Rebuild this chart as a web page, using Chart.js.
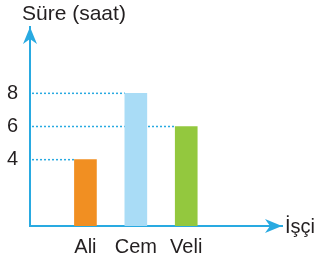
<!DOCTYPE html>
<html>
<head>
<meta charset="utf-8">
<script src="https://cdn.jsdelivr.net/npm/chart.js@4"></script>
<style>
  html, body { margin: 0; padding: 0; background: #fff; }
  #chart { display: block; }
</style>
</head>
<body>
<canvas id="chart" width="317" height="263"></canvas>
<script>
// Chart data
const workers = ['Ali', 'Cem', 'Veli'];
const workerPos = [1, 2, 3];
const hours = [4, 8, 6];
const barColors = ['#f18f22', '#a9dcf6', '#93c83e'];
const hourTicks = [4, 6, 8];

const AXIS_COLOR = '#29aae1';
const TEXT_COLOR = '#231f20';
const FONT = "'Liberation Sans', Arial, sans-serif";

// Arrow heads, dotted guide lines, title and the x-axis name
const axisDecor = {
  id: 'axisDecor',
  beforeDatasetsDraw(chart) {
    const { ctx, chartArea } = chart;
    const bars = chart.getDatasetMeta(0).data;
    ctx.save();
    ctx.strokeStyle = AXIS_COLOR;
    ctx.lineWidth = 1.5;
    ctx.setLineDash([2, 2]);
    bars.forEach(bar => {
      ctx.beginPath();
      ctx.moveTo(chartArea.left + 2, bar.y);
      ctx.lineTo(bar.x - bar.width / 2, bar.y);
      ctx.stroke();
    });
    ctx.restore();
  },
  afterDraw(chart) {
    const { ctx, chartArea } = chart;
    const { left, right, top, bottom } = chartArea;
    ctx.save();
    ctx.fillStyle = AXIS_COLOR;

    // y axis arrow
    ctx.beginPath();
    ctx.moveTo(left, top);
    ctx.lineTo(left + 7, top + 17);
    ctx.lineTo(left, top + 12);
    ctx.lineTo(left - 7, top + 17);
    ctx.closePath();
    ctx.fill();

    // x axis arrow
    ctx.beginPath();
    ctx.moveTo(right, bottom);
    ctx.lineTo(right - 17, bottom - 7);
    ctx.lineTo(right - 12, bottom);
    ctx.lineTo(right - 17, bottom + 7);
    ctx.closePath();
    ctx.fill();

    ctx.fillStyle = TEXT_COLOR;
    ctx.textBaseline = 'middle';
    ctx.textAlign = 'left';
    ctx.font = '21px ' + FONT;
    ctx.fillText('Süre (saat)', left - 8, 14);
    ctx.font = '20px ' + FONT;
    ctx.fillText('İşçi', right + 3, bottom + 1);
    ctx.restore();
  }
};

new Chart(document.getElementById('chart'), {
  type: 'bar',
  data: {
    datasets: [{
      data: workerPos.map((x, i) => ({ x: x, y: hours[i] })),
      backgroundColor: barColors,
      borderWidth: 0,
      barThickness: 22
    }]
  },
  options: {
    responsive: false,
    animation: false,
    layout: {
      padding: { left: 0, right: 35, top: 27, bottom: 0 }
    },
    plugins: {
      legend: { display: false },
      tooltip: { enabled: false },
      title: { display: false }
    },
    scales: {
      x: {
        type: 'linear',
        offset: false,
        min: -0.1,
        max: 4.9,
        grid: { display: false, drawTicks: false, offset: false },
        border: { display: true, color: AXIS_COLOR, width: 2 },
        afterBuildTicks: scale => {
          scale.ticks = workerPos.map(v => ({ value: v }));
        },
        afterFit: scale => { scale.height = 37; },
        ticks: {
          padding: 9,
          color: TEXT_COLOR,
          font: { family: FONT, size: 20 },
          maxRotation: 0,
          autoSkip: false,
          callback: (value, index) => workers[index]
        }
      },
      y: {
        min: 0,
        max: 12,
        grid: { display: false, drawTicks: false },
        border: { display: true, color: AXIS_COLOR, width: 2 },
        afterBuildTicks: scale => {
          scale.ticks = hourTicks.map(v => ({ value: v }));
        },
        afterFit: scale => { scale.width = 30; },
        ticks: {
          padding: 12,
          color: TEXT_COLOR,
          font: { family: FONT, size: 20 }
        }
      }
    }
  },
  plugins: [axisDecor]
});
</script>
</body>
</html>
